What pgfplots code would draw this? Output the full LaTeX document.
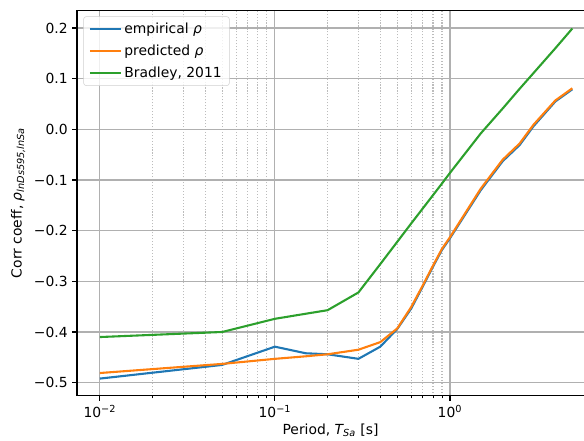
\documentclass[border=0pt]{standalone}
\usepackage{fontspec}
\setmainfont{DejaVu Sans}
\usepackage{pgfplots}
\pgfplotsset{compat=1.18}

\definecolor{c0}{HTML}{1F77B4}
\definecolor{c1}{HTML}{FF7F0E}
\definecolor{c2}{HTML}{2CA02C}
\definecolor{gridc}{HTML}{B0B0B0}

\pgfplotstableread{
T      emp     pred    brad
0.01  -0.492  -0.481  -0.410
0.05  -0.465  -0.463  -0.400
0.1   -0.429  -0.453  -0.374
0.15  -0.442  -0.448  -0.364
0.2   -0.444  -0.444  -0.357
0.3   -0.453  -0.435  -0.322
0.4   -0.429  -0.420  -0.266
0.5   -0.394  -0.393  -0.222
0.6   -0.354  -0.351  -0.186
0.7   -0.310  -0.308  -0.156
0.8   -0.271  -0.269  -0.130
0.9   -0.238  -0.236  -0.107
1.0   -0.215  -0.213  -0.086
1.5   -0.120  -0.117  -0.008
2     -0.063  -0.060   0.041
2.5   -0.031  -0.028   0.080
3      0.006   0.009   0.111
4      0.055   0.057   0.160
5      0.079   0.081   0.199
}\datatab

\begin{document}
\begin{tikzpicture}
\begin{axis}[
    at={(0,0)}, anchor=south west,
    scale only axis,
    width=400bp, height=304.3bp,
    xmode=log,
    xmin=0.00741, xmax=5.83,
    ymin=-0.5257, ymax=0.2355,
    axis lines*=left,
    axis line style={line width=0.88bp, black, -},
    tick pos=left,
    tick align=outside,
    major tick length=3.85bp,
    minor tick length=2.2bp,
    every tick/.style={black, line width=0.88bp},
    minor tick style={black, line width=0.66bp},
    xtick={0.01,0.1,1},
    xticklabels={10\textsuperscript{−2},10\textsuperscript{−1},10\textsuperscript{0}},
    ytick={-0.5,-0.4,-0.3,-0.2,-0.1,0,0.1,0.2},
    yticklabels={−0.5,−0.4,−0.3,−0.2,−0.1,0.0,0.1,0.2},
    tick label style={font=\fontsize{11}{13}\selectfont},
    xmajorgrids, ymajorgrids, xminorgrids,
    major grid style={gridc, line width=0.88bp},
    minor grid style={gridc!85, line width=0.88bp, dash pattern=on 0.88bp off 1.45bp},
    xlabel={Period, {\itshape T}\textsubscript{\itshape Sa} [s]},
    ylabel={Corr coeff, {\itshape ρ}\textsubscript{\itshape lnDs595,lnSa}},
    label style={font=\fontsize{11}{13}\selectfont},
    xlabel style={yshift=2bp},
    legend style={at={(0,1)}, anchor=north west, xshift=5bp, yshift=-5bp,
        draw=gridc!60, rounded corners=2bp, fill=white, fill opacity=0.8,
        text opacity=1, font=\fontsize{11}{13}\selectfont,
        row sep=3.5bp, inner xsep=4bp, inner ysep=3bp},
    legend cell align=left,
    legend image code/.code={\draw[#1] (0bp,0bp) -- (24.5bp,0bp);},
]
\addplot[c0, line width=1.65bp] table[x=T, y=emp] {\datatab};
\addlegendentry{empirical {\itshape ρ}}
\addplot[c1, line width=1.65bp] table[x=T, y=pred] {\datatab};
\addlegendentry{predicted {\itshape ρ}}
\addplot[c2, line width=1.65bp] table[x=T, y=brad] {\datatab};
\addlegendentry{Bradley, 2011}
\draw[black, line width=0.88bp] (rel axis cs:0,1) -- (rel axis cs:1,1);
\end{axis}
\pgfresetboundingbox
\path[use as bounding box] (-60.8bp,-35.7bp) rectangle (400bp,312.2bp);
\end{tikzpicture}
\end{document}
